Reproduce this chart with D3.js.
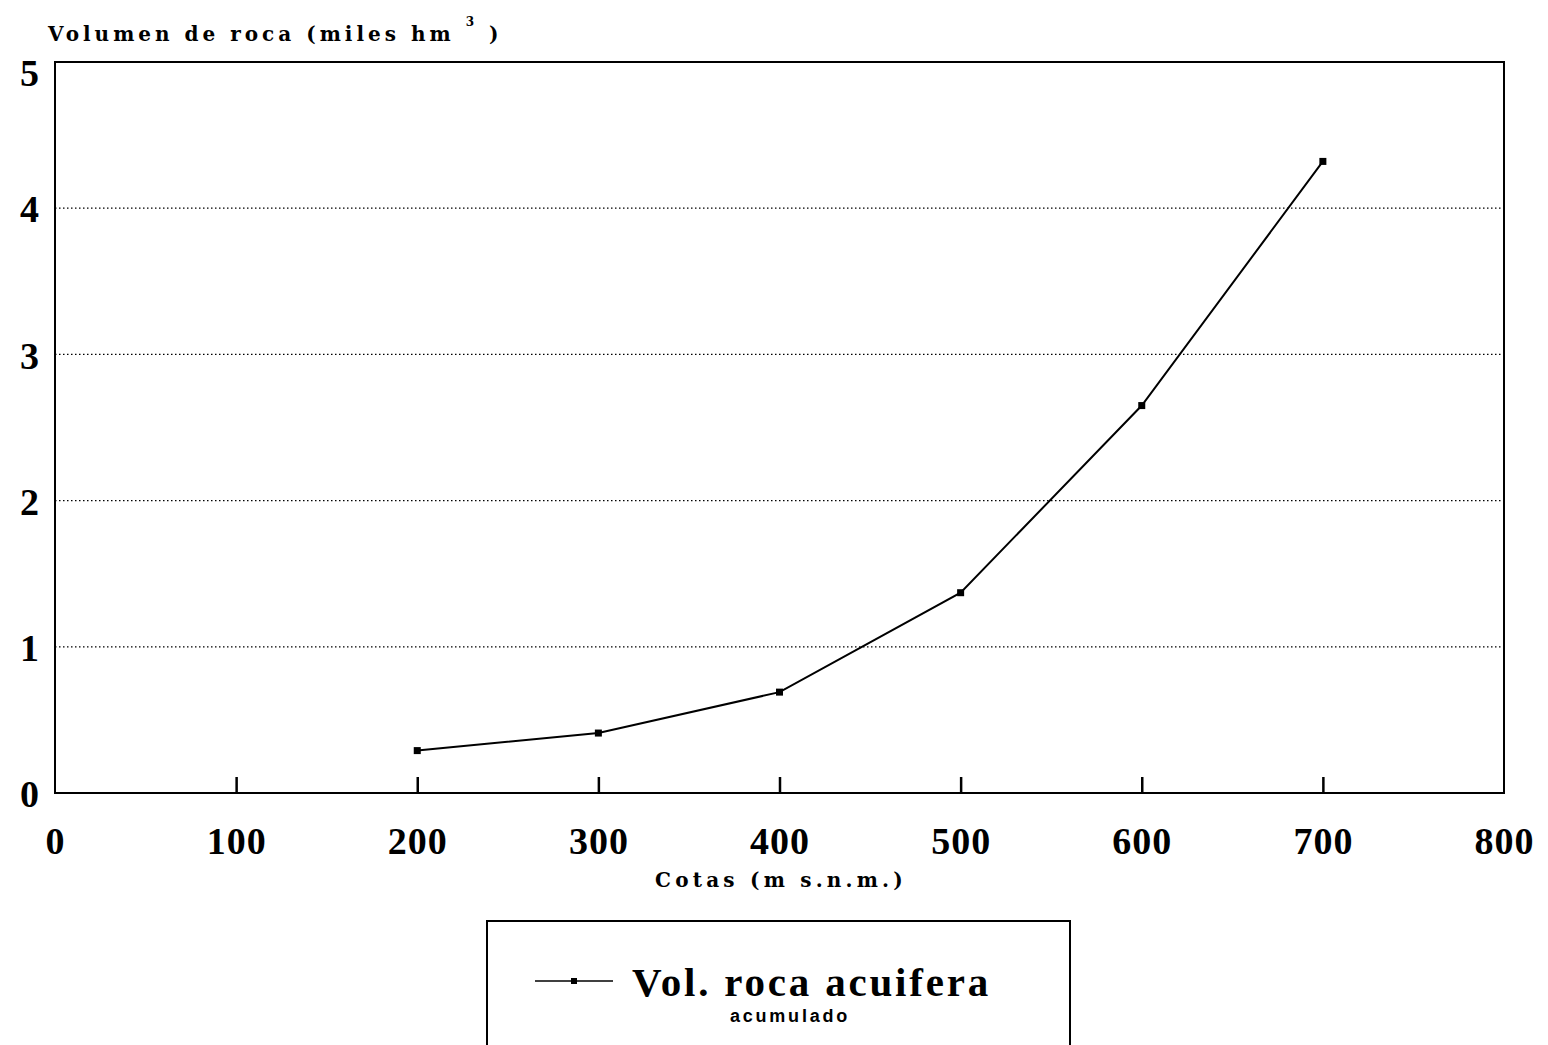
<!DOCTYPE html>
<html>
<head>
<meta charset="utf-8">
<script src="https://cdn.jsdelivr.net/npm/d3@7"></script>
<style>
  body { margin: 0; background: #fff; }
  svg { display: block; }
</style>
</head>
<body>
<div id="chart"></div>
<script>
// data
var cotas = [200, 300, 400, 500, 600, 700];
var volumen = [0.29, 0.41, 0.69, 1.37, 2.65, 4.32];
var xTicks = [0, 100, 200, 300, 400, 500, 600, 700, 800];
var yTicks = [0, 1, 2, 3, 4, 5];

var width = 1548, height = 1045;
var margin = {top: 62, right: 44, bottom: 252, left: 55};

var svg = d3.select("#chart").append("svg")
    .attr("width", width)
    .attr("height", height);

var x = d3.scaleLinear().domain([0, 800]).range([margin.left, width - margin.right]);
var y = d3.scaleLinear().domain([0, 5]).range([height - margin.bottom, margin.top]);

var serif = "'Liberation Serif', 'Times New Roman', serif";
var slab = "'DejaVu Serif', serif";

// dotted gridlines
svg.append("g")
    .selectAll("line")
    .data(yTicks.filter(function(d) { return d > 0 && d < 5; }))
    .enter().append("line")
    .attr("x1", x(0)).attr("x2", x(800))
    .attr("y1", function(d) { return y(d); })
    .attr("y2", function(d) { return y(d); })
    .attr("stroke", "#000")
    .attr("stroke-width", 1.2)
    .attr("stroke-dasharray", "1.5,2.5");

// frame
svg.append("rect")
    .attr("x", x(0)).attr("y", y(5))
    .attr("width", x(800) - x(0))
    .attr("height", y(0) - y(5))
    .attr("fill", "none")
    .attr("stroke", "#000")
    .attr("stroke-width", 2);

// x axis with inward ticks
var xAxis = svg.append("g")
    .attr("transform", "translate(0," + y(0) + ")")
    .call(d3.axisBottom(x).tickValues(xTicks).tickFormat(d3.format("d"))
        .tickSizeInner(-16).tickSizeOuter(0).tickPadding(34));
xAxis.select(".domain").remove();
xAxis.selectAll(".tick line").attr("stroke-width", 2.5)
    .style("display", function(d) { return (d === 0 || d === 800) ? "none" : null; });
xAxis.selectAll("text")
    .attr("font-family", serif)
    .attr("font-weight", "bold")
    .attr("font-size", 38)
    .attr("letter-spacing", 1)
    .attr("fill", "#000");

// y axis labels only
var yAxis = svg.append("g")
    .attr("transform", "translate(" + x(0) + ",0)")
    .call(d3.axisLeft(y).tickValues(yTicks).tickFormat(d3.format("d")).tickSize(0).tickPadding(16));
yAxis.select(".domain").remove();
yAxis.selectAll("text")
    .attr("font-family", serif)
    .attr("font-weight", "bold")
    .attr("font-size", 38)
    .attr("fill", "#000")
    .attr("dy", function(d) { return d === 5 ? "0.62em" : "0.36em"; });

// line + markers
var line = d3.line()
    .x(function(d, i) { return x(cotas[i]); })
    .y(function(d) { return y(d); });

svg.append("path")
    .datum(volumen)
    .attr("d", line)
    .attr("fill", "none")
    .attr("stroke", "#000")
    .attr("stroke-width", 2);

svg.append("g")
    .selectAll("rect")
    .data(volumen)
    .enter().append("rect")
    .attr("x", function(d, i) { return x(cotas[i]) - 3.5; })
    .attr("y", function(d) { return y(d) - 3.5; })
    .attr("width", 7).attr("height", 7)
    .attr("fill", "#000");

// axis titles
var yTitle = svg.append("text")
    .attr("x", 48).attr("y", 41)
    .attr("font-family", slab)
    .attr("font-weight", "bold")
    .attr("font-size", 20)
    .attr("letter-spacing", 4)
    .attr("fill", "#000");
yTitle.append("tspan").text("Volumen de roca (miles hm ");
yTitle.append("tspan").attr("font-size", 12).attr("dy", -15).text("3");
yTitle.append("tspan").attr("dy", 15).text(" )");

svg.append("text")
    .attr("x", 781).attr("y", 887)
    .attr("text-anchor", "middle")
    .attr("font-family", slab)
    .attr("font-weight", "bold")
    .attr("font-size", 20)
    .attr("letter-spacing", 4.2)
    .attr("fill", "#000")
    .text("Cotas (m s.n.m.)");

// legend
var legend = svg.append("g");
legend.append("rect")
    .attr("x", 487).attr("y", 921)
    .attr("width", 583).attr("height", 140)
    .attr("fill", "none")
    .attr("stroke", "#000")
    .attr("stroke-width", 2);
legend.append("line")
    .attr("x1", 535).attr("x2", 613)
    .attr("y1", 981).attr("y2", 981)
    .attr("stroke", "#000").attr("stroke-width", 1.5);
legend.append("rect")
    .attr("x", 571).attr("y", 978)
    .attr("width", 6).attr("height", 6)
    .attr("fill", "#000");
legend.append("text")
    .attr("x", 632).attr("y", 996)
    .attr("font-family", serif)
    .attr("font-weight", "bold")
    .attr("font-size", 41)
    .attr("letter-spacing", 2.8)
    .attr("fill", "#000")
    .text("Vol. roca acuifera");
legend.append("text")
    .attr("x", 790).attr("y", 1022)
    .attr("text-anchor", "middle")
    .attr("font-family", "'Liberation Sans', Arial, sans-serif")
    .attr("font-weight", "bold")
    .attr("font-size", 18)
    .attr("letter-spacing", 2.8)
    .attr("fill", "#000")
    .text("acumulado");
</script>
</body>
</html>
